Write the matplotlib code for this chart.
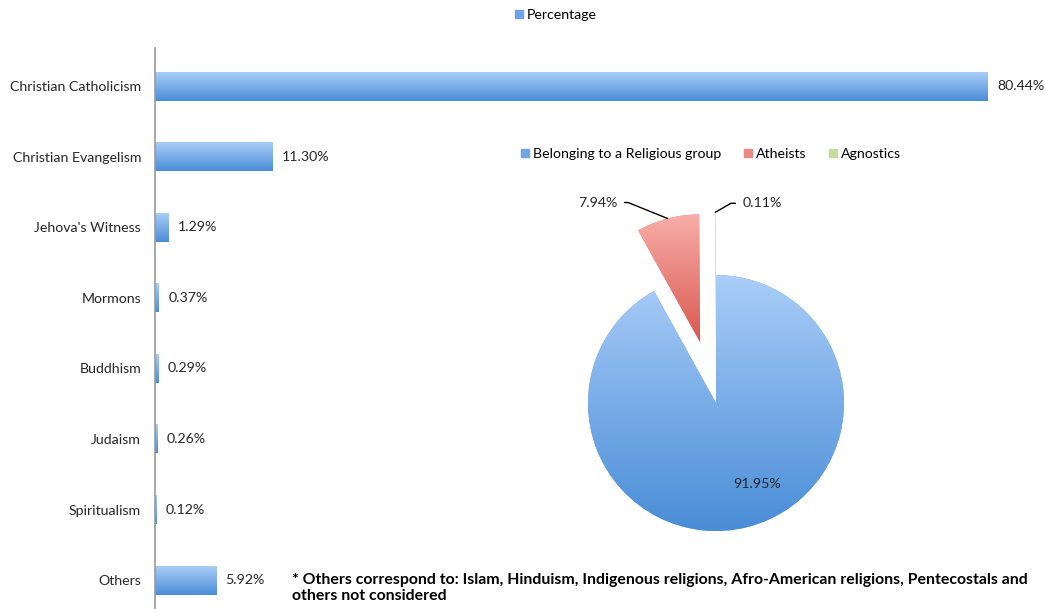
import numpy as np
import matplotlib
matplotlib.use("Agg")
import matplotlib.pyplot as plt
from matplotlib.colors import LinearSegmentedColormap
from matplotlib.patches import Patch

religions = ["Christian Catholicism", "Christian Evangelism", "Jehova's Witness",
             "Mormons", "Buddhism", "Judaism", "Spiritualism", "Others"]
pct = [80.44, 11.30, 1.29, 0.37, 0.29, 0.26, 0.12, 5.92]

pie_labels = ["Belonging to a Religious group", "Atheists", "Agnostics"]
pie_vals = [91.95, 7.94, 0.11]

note = ("* Others correspond to: Islam, Hinduism, Indigenous religions, Afro-American religions, Pentecostals and\n"
        "others not considered")

plt.rcParams['font.family'] = ['Lato', 'DejaVu Sans']
txt = "#262626"
fs = 10.2

blue = ("#A9CDF8", "#4A8DD7")
red = ("#F8ADA8", "#D95850")
green = ("#E2EDCB", "#B5D07F")
mid = {"blue": "#6FA4E4", "red": "#EB8A84", "green": "#C6DC9E"}


def grad_fill(ax, patch, colors, extent):
    cmap = LinearSegmentedColormap.from_list("g", [colors[1], colors[0]])
    im = ax.imshow(np.linspace(0, 1, 64).reshape(-1, 1), cmap=cmap, extent=extent,
                   origin="lower", aspect="auto", interpolation="bilinear",
                   zorder=patch.get_zorder() + 0.1)
    im.set_clip_path(patch)


W, H = 1045, 609
fig = plt.figure(figsize=(W / 100, H / 100), dpi=100)

# bar chart
ax = fig.add_axes([155 / W, 0, (W - 155) / W, (H - 48) / H])
y = np.arange(len(religions))
h = 0.41
bars = ax.barh(y, pct, height=h, color=mid["blue"], zorder=2)
for b, v, yi in zip(bars, pct, y):
    grad_fill(ax, b, blue, (0, v, yi + h / 2, yi - h / 2))
    ax.text(v + 0.9, yi, "%.2f%%" % v, va="center", ha="left", fontsize=fs, color=txt)
ax.set_xlim(0, 85.95)
ax.set_ylim(7.41, -0.54)
ax.set_yticks(y)
ax.set_yticklabels(religions, fontsize=fs, color=txt)
ax.tick_params(axis="y", length=0, pad=10)
ax.set_xticks([])
for s in ["top", "right", "bottom"]:
    ax.spines[s].set_visible(False)
ax.spines["left"].set_color("#9a9a9a")
ax.spines["left"].set_linewidth(1.2)

fig.legend(handles=[Patch(color=mid["blue"], label="Percentage")], loc="center",
           bbox_to_anchor=(556 / W, 1 - 15 / H), frameon=False, fontsize=fs,
           handlelength=0.55, handleheight=0.55, handletextpad=0.3)

fig.text(292 / W, 1 - 588 / H, note, fontsize=11.4, fontweight="bold", va="center",
         ha="left", color="black", linespacing=1.15)

# pie chart
ax2 = fig.add_axes([(716 - 200) / W, 6 / H, 400 / W, 400 / H])
wedges, _ = ax2.pie(pie_vals, colors=[mid["blue"], mid["red"], mid["green"]],
                    startangle=90, counterclock=False, explode=[0, 0.49, 0.49],
                    radius=1)
for w, c in zip(wedges, [blue, red, green]):
    bb = w.get_path().get_extents()
    grad_fill(ax2, w, c, (bb.x0, bb.x1, bb.y0, bb.y1))
lim = 200 / 128
ax2.set_xlim(-lim, lim)
ax2.set_ylim(-lim, lim)
ax2.set_aspect("equal")
ax2.axis("off")

# leader-line labels: (offset in pixels, angle of the sloped part)
for w, v, off, ang in zip(wedges[1:], pie_vals[1:], [(-50, 16), (27, 9)], [158, 30]):
    th = np.deg2rad((w.theta1 + w.theta2) / 2)
    cx, cy = w.center
    pt = (cx + np.cos(th), cy + np.sin(th))
    ax2.annotate("%.2f%%" % v, xy=pt, xytext=off, textcoords="offset pixels",
                 ha="right" if off[0] < 0 else "left", va="center", fontsize=fs, color=txt,
                 arrowprops=dict(arrowstyle="-", color="black", lw=1,
                                 connectionstyle="angle,angleA=0,angleB=%d,rad=0" % ang,
                                 shrinkA=3, shrinkB=0))
ax2.text(0.32, -0.63, "%.2f%%" % pie_vals[0], ha="center", va="center", fontsize=fs, color=txt)

fig.legend(handles=[Patch(color=mid[k], label=l) for k, l in zip(["blue", "red", "green"], pie_labels)],
           loc="center", bbox_to_anchor=(711 / W, 1 - 154 / H), ncol=3, frameon=False,
           fontsize=fs, handlelength=0.55, handleheight=0.55, handletextpad=0.3, columnspacing=1.6)

fig.savefig("out.png", dpi=100)
